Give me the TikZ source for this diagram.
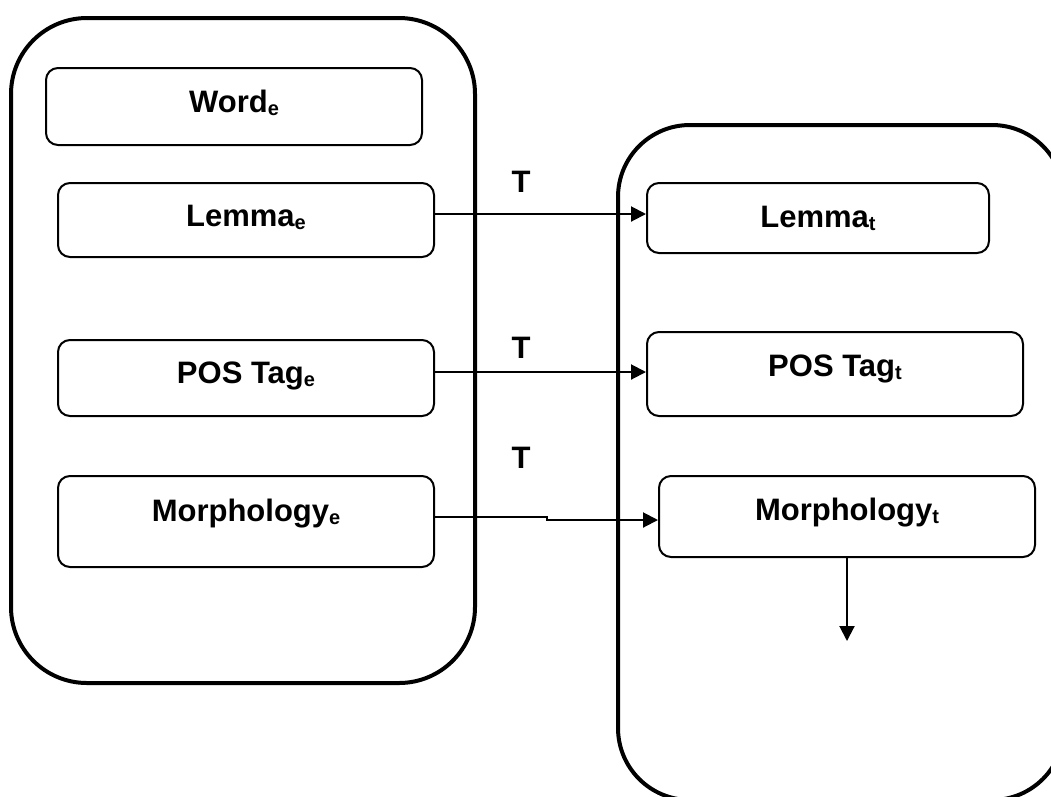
\documentclass[tikz,border=0pt]{standalone}
\usepackage{fontspec}
\setmainfont{Liberation Sans}
\usetikzlibrary{arrows.meta}
% small lowered index after a field name
\newcommand\lowidx[1]{\raisebox{-3pt}{\fontsize{20}{20}\selectfont #1}}
\begin{document}
\begin{tikzpicture}[x=1pt,y=-1pt,
  container/.style={draw, line width=4pt, rounded corners=76pt},
  field/.style={draw, line width=2pt, rounded corners=12pt, inner sep=0pt,
    font=\bfseries\fontsize{31}{31}\selectfont, text height=23pt},
  arr/.style={line width=2pt, -{Triangle[length=15pt,width=15pt]}},
  tlabel/.style={font=\bfseries\fontsize{31}{31}\selectfont, inner sep=0pt}]
\useasboundingbox (0,0) rectangle (1051,796);
\fill[white] (0,0) rectangle (1051,796);

% source and target containers
\draw[container] (11,18) rectangle (475,683);
\begin{scope}
  \clip (0,0) rectangle (1051,796);
  \draw[container, rounded corners=72pt] (618,125) rectangle (1064,800);
\end{scope}

% source fields
\node[field, minimum width=376pt, minimum height=77pt, text depth=11pt] (we) at (234,106.5) {Word\lowidx{e}};
\node[field, minimum width=376pt, minimum height=74pt, text depth=10pt] (le) at (246,220) {Lemma\lowidx{e}};
\node[field, minimum width=376pt, minimum height=76pt, text depth=12pt] (pe) at (246,378) {POS Tag\lowidx{e}};
\node[field, minimum width=376pt, minimum height=91pt, text depth=24pt] (me) at (246,521.5) {Morphology\lowidx{e}};

% target fields
\node[field, minimum width=342pt, minimum height=70pt, text depth=4pt] (lt) at (818,218) {Lemma\lowidx{t}};
\node[field, minimum width=376pt, minimum height=84pt, text depth=18pt] (pt) at (835,374) {POS Tag\lowidx{t}};
\node[field, minimum width=376pt, minimum height=81pt, text depth=15pt] (mt) at (847,516.5) {Morphology\lowidx{t}};

% transfer labels
\node[tlabel] (t1) at (521,181.5) {T};
\node[tlabel] (t2) at (521,347.5) {T};
\node[tlabel] (t3) at (521,457.5) {T};

% transfer arrows
\draw[arr] ([yshift=6pt]le.east) -- ([yshift=4pt]lt.west);
\draw[arr] ([yshift=6pt]pe.east) -- ([yshift=2pt]pt.west);
\draw[arr] ([yshift=4.5pt]me.east) -- ++(112,0) |- ([yshift=-3.5pt]mt.west);

% output arrow
\coordinate (dn) at (847,641);
\draw[arr] (mt.south) -- (dn);
\end{tikzpicture}
\end{document}
